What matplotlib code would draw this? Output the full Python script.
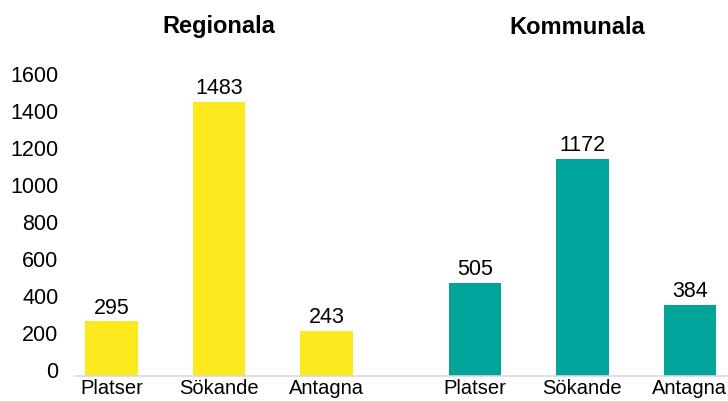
import matplotlib.pyplot as plt
import matplotlib.transforms as mtransforms
import numpy as np

plt.rcParams['font.family'] = ['Liberation Sans', 'DejaVu Sans']

categories = ['Platser', 'Sökande', 'Antagna']
groups = ['Regionala', 'Kommunala']
regionala = [295, 1483, 243]
kommunala = [505, 1172, 384]
colors = ['#FCE91D', '#00A499']

fig = plt.figure(figsize=(7.28, 4.01), dpi=100)
ax = fig.add_axes([75 / 728, 1 - 376 / 401, 1 - 75 / 728, (376 - 80) / 401])

x_r = np.arange(len(categories))
x_k = x_r + 3.38
width = 0.49

for xs, vals, col in [(x_r, regionala, colors[0]), (x_k, kommunala, colors[1])]:
    bars = ax.bar(xs, vals, width=width, color=col, zorder=2)
    for b, v in zip(bars, vals):
        ax.annotate(str(v), (b.get_x() + b.get_width() / 2, v), xytext=(0, 2),
                    textcoords='offset points', ha='center', va='bottom', fontsize=15.5)

ax.set_xlim(-0.34, (728 - 111.5) / 107.5)
ax.set_ylim(0, 1600)
ax.set_yticks(range(0, 1601, 200))
ax.set_xticks(list(x_r) + list(x_k))
ax.set_xticklabels(categories + categories)
ax.tick_params(axis='both', length=0)
ax.tick_params(axis='y', pad=12, labelsize=15.5)
ax.tick_params(axis='x', pad=2, labelsize=14.5)

for s in ['top', 'right', 'left']:
    ax.spines[s].set_visible(False)
ax.spines['bottom'].set_color('#D9D9D9')
ax.spines['bottom'].set_linewidth(1.2)

# tick labels sit a little above their value, as in the original
off = mtransforms.ScaledTranslation(0, 4 / 72, fig.dpi_scale_trans)
for lab in ax.get_yticklabels():
    lab.set_transform(lab.get_transform() + off)

trans = mtransforms.blended_transform_factory(ax.transData, fig.transFigure)
ax.text(1, 1 - 27 / 401, groups[0], transform=trans, ha='center', va='center',
        fontsize=17, fontweight='bold')
ax.text(x_k[1] - 0.05, 1 - 27 / 401, groups[1], transform=trans, ha='center', va='center',
        fontsize=17, fontweight='bold')

fig.savefig('out.png', dpi=100)
